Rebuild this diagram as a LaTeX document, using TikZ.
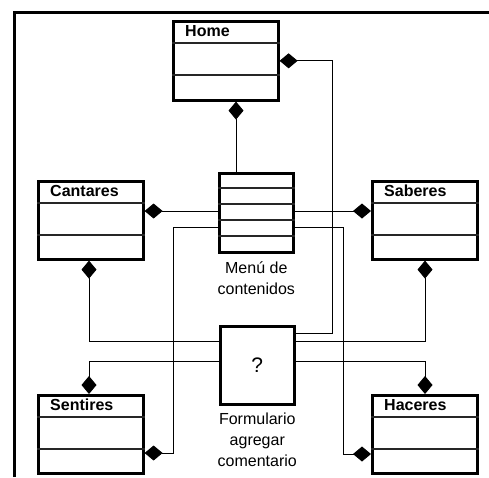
\documentclass[tikz,border=0pt]{standalone}
\usepackage{fontspec}
\setmainfont{Liberation Sans}
\usetikzlibrary{arrows.meta,calc}
\begin{document}
\begin{tikzpicture}[x=1pt,y=-1pt,
  classbox/.style={draw,line width=2.6pt,minimum width=105pt,minimum height=78pt,anchor=north west,inner sep=0pt},
  smallbox/.style={draw,line width=2.6pt,minimum width=74pt,minimum height=79pt,anchor=north west,inner sep=0pt},
  divline/.style={line width=1.4pt,black!85},
  title/.style={anchor=base west,font=\fontsize{16}{19}\selectfont\bfseries,inner sep=0pt},
  lbl/.style={align=center,font=\fontsize{16}{21}\selectfont,inner sep=0pt,anchor=north},
  comp/.style={line width=1pt,{Diamond[length=18pt,width=15pt]}-},
  frame/.style={line width=3pt}
]
\useasboundingbox (0,0) rectangle (489,477);
\draw[frame] (14,477) -- (14,12) -- (489,12);

% class boxes
\node[classbox,minimum height=79pt] (home) at (172,20) {};
\node[classbox] (cant) at (37,180) {};
\node[classbox] (sab) at (371,180) {};
\node[classbox] (sent) at (37,394) {};
\node[classbox] (hac) at (371,394) {};
\foreach \b/\t in {home/Home,cant/Cantares,sab/Saberes,sent/Sentires,hac/Haceres}{
  \draw[divline] ($(\b.north west)+(0,23)$) -- ($(\b.north east)+(0,23)$);
  \draw[divline] ($(\b.north west)+(0,55)$) -- ($(\b.north east)+(0,55)$);
  \node[title] at ($(\b.north west)+(13,16.5)$) {\t};
}

% menu and form
\node[smallbox] (menu) at (218,172) {};
\foreach \r in {16,32,48,64}{
  \draw[divline] ($(menu.north west)+(0,\r)$) -- ($(menu.north east)+(0,\r)$);
}
\node[lbl,anchor=north] (menulbl) at ($(menu.south)+(0,8)$) {Menú de\\contenidos};
\node[smallbox,minimum height=78pt] (form) at (219,325) {};
\node[font=\fontsize{21}{24}\selectfont] (q) at (form.center) {?};
\node[lbl,anchor=north] (formlbl) at ($(form.south)+(0,7)$) {Formulario\\agregar\\comentario};

% connectors
\draw[comp] ($(home.south west)+(64,0)$) -- ($(menu.north west)+(18,0)$);
\draw[comp] (home.east) -| ($(form.north east)+(37,8)$) -- ($(form.north east)+(0,8)$);
\draw[comp] ($(cant.north east)+(0,31)$) -- ($(menu.north west)+(0,39)$);
\draw[comp] ($(sab.north west)+(0,31)$) -- ($(menu.north east)+(0,39)$);
\draw[comp] ($(sent.north east)+(0,59)$) -| ($(menu.north west)+(-45,55)$) -- ($(menu.north west)+(0,55)$);
\draw[comp] ($(hac.north west)+(0,60)$) -| ($(menu.north east)+(49,55)$) -- ($(menu.north east)+(0,55)$);
\draw[comp] ($(cant.south west)+(52,0)$) |- ($(form.north west)+(0,16)$);
\draw[comp] ($(sab.south west)+(54,0)$) |- ($(form.north east)+(0,16)$);
\draw[comp] ($(sent.north west)+(52,0)$) |- ($(form.north west)+(0,36)$);
\draw[comp] ($(hac.north west)+(54,0)$) |- ($(form.north east)+(0,36)$);
\end{tikzpicture}
\end{document}
